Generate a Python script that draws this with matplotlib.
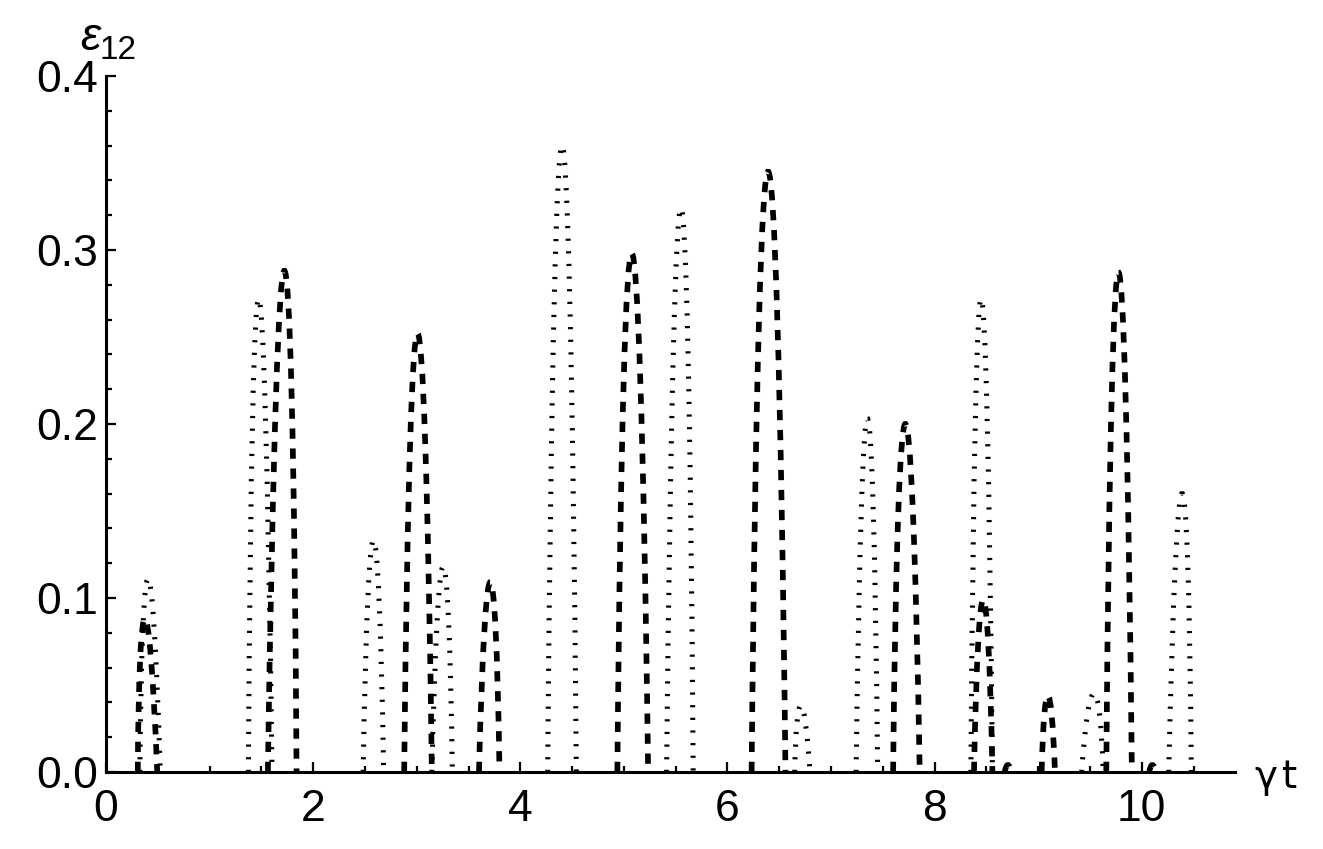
import matplotlib
matplotlib.use('Agg')
import matplotlib.pyplot as plt
from matplotlib.path import Path
from matplotlib.patches import PathPatch
from matplotlib.ticker import MultipleLocator, FormatStrFormatter

plt.rcParams['font.family'] = ['Liberation Sans', 'DejaVu Sans']
plt.rcParams['lines.scale_dashes'] = False

# ---- data: each bump = left root, peak position, peak height, right root
dashed_left   = [0.307, 1.563, 2.879, 3.601, 4.937, 6.233, 7.599, 8.380, 8.677, 9.033, 9.657, 10.072]
dashed_peak   = [0.376, 1.722, 3.008, 3.710, 5.076, 6.392, 7.717, 8.469, 8.707, 9.093, 9.775, 10.102]
dashed_height = [0.088, 0.288, 0.252, 0.109, 0.298, 0.345, 0.200, 0.099, 0.004, 0.044, 0.287, 0.004]
dashed_right  = [0.495, 1.840, 3.146, 3.799, 5.234, 6.560, 7.856, 8.558, 8.736, 9.162, 9.904, 10.131]

dotted_left   = [0.327, 1.375, 2.483, 3.146, 4.264, 5.412, 6.649, 7.242, 8.350, 9.419, 10.260]
dotted_peak   = [0.406, 1.474, 2.582, 3.255, 4.403, 5.551, 6.708, 7.351, 8.449, 9.538, 10.389]
dotted_height = [0.111, 0.272, 0.133, 0.118, 0.360, 0.324, 0.038, 0.203, 0.272, 0.045, 0.160]
dotted_right  = [0.524, 1.603, 2.681, 3.344, 4.541, 5.669, 6.797, 7.450, 8.558, 9.627, 10.478]

x_range = [0.0, 10.9]
y_range = [0.0, 0.4]
x_label_greek = "γ"
x_label_var = "t"
y_label_main = "ε"
y_label_sub = "12"


def series_path(lefts, peaks, heights, rights):
    """Each bump is drawn as one cubic Bezier arch between its two roots."""
    verts, codes = [], []
    for l, p, h, r in zip(lefts, peaks, heights, rights):
        w = r - l
        mid = 0.5 * (l + r)
        d = (p - mid) * 4.0 / 3.0
        a = 0.25 * w
        verts.append((l, 0.0)); codes.append(Path.MOVETO)
        verts.append((l + a + d, 4.0 / 3.0 * h)); codes.append(Path.CURVE4)
        verts.append((r - a + d, 4.0 / 3.0 * h)); codes.append(Path.CURVE4)
        verts.append((r, 0.0)); codes.append(Path.CURVE4)
    return Path(verts, codes)


fig = plt.figure(figsize=(13.23, 8.49), dpi=100)
ax = fig.add_axes([0.0801, 0.0907, 0.9335 - 0.0801, 0.9105 - 0.0907])

p_dot = series_path(dotted_left, dotted_peak, dotted_height, dotted_right)
p_dash = series_path(dashed_left, dashed_peak, dashed_height, dashed_right)

ax.add_patch(PathPatch(p_dot, fill=False, edgecolor='black', linewidth=3.6,
                       linestyle=(0, (1.6, 7.5)), capstyle='butt', joinstyle='miter'))
ax.add_patch(PathPatch(p_dash, fill=False, edgecolor='black', linewidth=4.1,
                       linestyle=(0, (7.4, 7.0)), capstyle='butt', joinstyle='miter'))

ax.set_xlim(*x_range)
ax.set_ylim(*y_range)

for s in ['top', 'right']:
    ax.spines[s].set_visible(False)
for s in ['left', 'bottom']:
    ax.spines[s].set_linewidth(2.2)

ax.xaxis.set_major_locator(MultipleLocator(2))
ax.xaxis.set_minor_locator(MultipleLocator(0.5))
ax.yaxis.set_major_locator(MultipleLocator(0.1))
ax.yaxis.set_minor_locator(MultipleLocator(0.02))
ax.yaxis.set_major_formatter(FormatStrFormatter('%.1f'))
ax.xaxis.set_major_formatter(FormatStrFormatter('%d'))

ax.tick_params(which='major', direction='in', length=7.5, width=1.6, labelsize=32)
ax.tick_params(which='minor', direction='in', length=4.5, width=1.6)
ax.tick_params(axis='x', which='major', pad=12)
ax.tick_params(axis='y', which='major', pad=6)
ax.tick_params(top=False, right=False, which='both')

fig.text(80 / 1323, (849 - 50) / 849, y_label_main, fontsize=33, style='italic',
         ha='left', va='baseline')
fig.text(100 / 1323, (849 - 59) / 849, y_label_sub, fontsize=24,
         ha='left', va='baseline')
fig.text(1254 / 1323, (849 - 788) / 849, x_label_greek, fontsize=28,
         family=['DejaVu Sans'], ha='left', va='baseline')
fig.text(1282 / 1323, (849 - 788) / 849, x_label_var, fontsize=28,
         family=['DejaVu Sans'], ha='left', va='baseline')

fig.savefig('out.png', dpi=100)
